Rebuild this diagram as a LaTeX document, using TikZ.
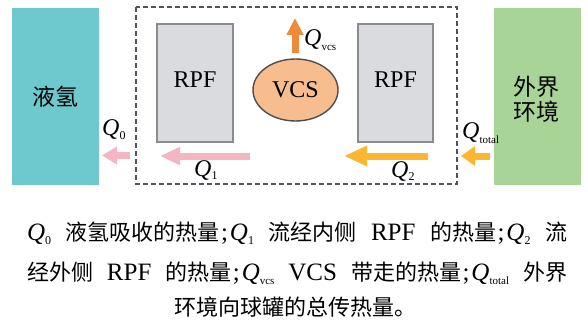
\documentclass[tikz,border=0pt]{standalone}
\usepackage{fontspec}
\setmainfont{Liberation Serif}
\newfontfamily\cjk{Noto Sans CJK SC}
\usetikzlibrary{arrows.meta,shapes.geometric}
\definecolor{hcyan}{HTML}{6DC9CD}
\definecolor{hgreen}{HTML}{A9D497}
\definecolor{rpffill}{HTML}{D9DBDE}
\definecolor{rpfdraw}{HTML}{8A8C8E}
\definecolor{vcsfill}{HTML}{F7BD8F}
\definecolor{vcsdraw}{HTML}{4D4D4D}
\definecolor{horange}{HTML}{EF8A3B}
\definecolor{hyellow}{HTML}{FDB62F}
\definecolor{hpink}{HTML}{F6B5C3}
\definecolor{hdash}{HTML}{4A5561}
\newcommand{\Qs}[1]{\textit{Q}\raisebox{-0.35ex}{\fontsize{12}{12}\selectfont #1}}
\newcommand{\Qc}[1]{\textit{Q}\raisebox{-0.4ex}{\fontsize{11}{11}\selectfont #1}}
\newcommand{\cj}[1]{{\cjk\fontsize{22}{22}\selectfont #1}}
\newcommand{\semi}{\hspace{1.5pt};\hspace{2pt}}
\tikzset{
  rpfbox/.style={draw=rpfdraw, fill=rpffill, line width=1.2pt, inner sep=0pt},
  flowarrow/.style={line width=7pt, -{Triangle[length=18pt,width=18pt]}},
  boxtext/.style={inner sep=0pt, font=\fontsize{24}{24}\selectfont},
  qlabel/.style={inner sep=0pt, font=\fontsize{24}{24}\selectfont},
  captline/.style={inner sep=0pt, anchor=base, font=\fontsize{25}{25}\selectfont},
}
\begin{document}
\begin{tikzpicture}[x=1pt,y=-1pt]
\useasboundingbox[fill=white] (0,0) rectangle (588,326);
% side boxes
\fill[hcyan] (12,8) rectangle (99,185);
\node[font=\cjk\fontsize{23}{23}\selectfont, inner sep=0pt] (lh2) at (55,97) {液氢};
\fill[hgreen] (494,8) rectangle (581,185);
\node[font=\cjk\fontsize{23}{25}\selectfont, align=center, inner sep=0pt] (env) at (536,99) {外界\\环境};
% dashed enclosure
\draw[hdash, line width=1.8pt, dash pattern=on 5pt off 3pt] (136,7) rectangle (457,184);
% RPF boxes
\draw[rpfbox] (157,24) rectangle (233,142);
\node[boxtext] (rpf1) at (195,80) {RPF};
\draw[rpfbox] (358,24) rectangle (433,142);
\node[boxtext] (rpf2) at (395.5,80) {RPF};
% VCS
\node[ellipse, draw=vcsdraw, fill=vcsfill, line width=1.4pt, minimum width=85pt, minimum height=62pt, boxtext] (vcs) at (295.5,90) {VCS};
% arrow coordinates
\coordinate (vcsA) at (295,53);
\coordinate (vcsB) at (295,18);
\coordinate (q0A) at (130,155.5);
\coordinate (q0B) at (102,155.5);
\coordinate (q1A) at (250,156);
\coordinate (q1B) at (160,156);
\coordinate (q2A) at (428,156);
\coordinate (q2B) at (344,156);
\coordinate (qtA) at (490,156);
\coordinate (qtB) at (461,156);
\draw[flowarrow, horange, line width=7pt, -{Triangle[length=17pt,width=16pt]}] (vcsA) -- (vcsB);
\draw[flowarrow, hpink, -{Triangle[length=15pt,width=17pt]}] (q0A) -- (q0B);
\draw[flowarrow, hpink, -{Triangle[length=20pt,width=17pt]}] (q1A) -- (q1B);
\draw[flowarrow, hyellow, -{Triangle[length=23pt,width=19pt]}] (q2A) -- (q2B);
\draw[flowarrow, hyellow, -{Triangle[length=14pt,width=19pt]}] (qtA) -- (qtB);
% Q labels
\node[qlabel, anchor=west] (lq0) at (102,130) {\Qs{0}};
\node[qlabel, anchor=west] (lq1) at (194,170) {\Qs{1}};
\node[qlabel, anchor=west] (lq2) at (391,171) {\Qs{2}};
\node[qlabel, anchor=west] (lqv) at (304,40) {\Qc{vcs}};
\node[qlabel, anchor=west] (lqt) at (462,133) {\Qc{total}};
% caption
\node[captline] (c1) at (297,240) {\hbox to 540pt{\Qs{0}\hfill\cj{液氢吸收的热量}\semi\Qs{1}\hfill\cj{流经内侧}\hfill RPF\hfill\cj{的热量}\semi\Qs{2}\hfill\cj{流}}};
\node[captline] (c2) at (297,280) {\hbox to 540pt{\cj{经外侧}\hfill RPF\hfill\cj{的热量}\semi\Qc{vcs}\hfill VCS\hfill\cj{带走的热量}\semi\Qc{total}\hfill\cj{外界}}};
\node[captline] (c3) at (295,315) {\cj{环境向球罐的总传热量。}};
\end{tikzpicture}
\end{document}
